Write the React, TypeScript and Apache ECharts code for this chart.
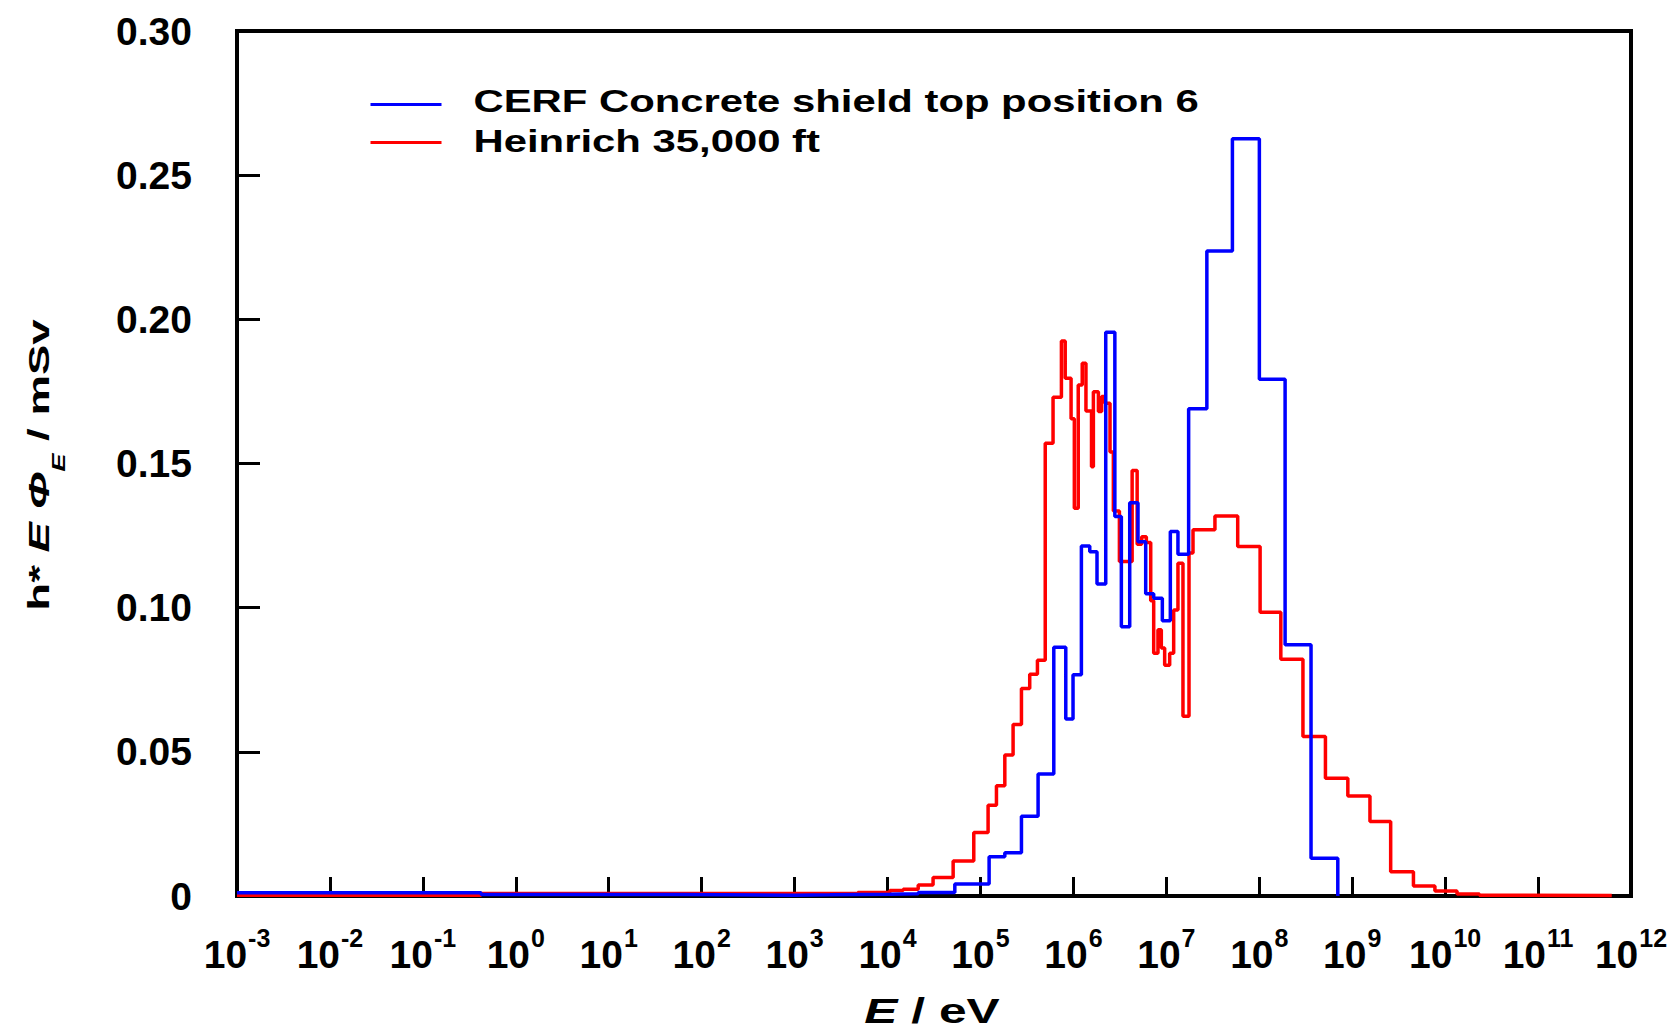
import React, { useEffect, useRef } from "react";
import * as echarts from "echarts";

// bin edges as log10(E / eV), values are h* E Phi_E in mSv
const cerfEdgesLog = [
  -3, -0.374, 1.8, 3.0, 3.38, 4.025, 4.33, 4.724, 5.093, 5.262, 5.441, 5.62,
  5.789, 5.918, 5.996, 6.086, 6.176, 6.254, 6.348, 6.446, 6.516, 6.606, 6.695,
  6.778, 6.864, 6.957, 7.043, 7.125, 7.24, 7.436, 7.711, 8.001, 8.278, 8.557,
  8.845,
];
const cerfValues = [
  0.0011, 0.0005, 0.0003, 0.0004, 0.0006, 0.0008, 0.0012, 0.0042, 0.0136,
  0.015, 0.0277, 0.0423, 0.0863, 0.0614, 0.0767, 0.1214, 0.1194, 0.1082,
  0.1955, 0.1316, 0.0934, 0.1364, 0.1229, 0.1048, 0.1033, 0.0955, 0.1264,
  0.1185, 0.169, 0.2237, 0.2626, 0.1792, 0.0871, 0.0131,
];

const heinrichEdgesLog = [
  -3, -0.374, 3.68, 4.025, 4.168, 4.33, 4.49, 4.706, 4.928, 5.082, 5.172,
  5.262, 5.351, 5.441, 5.53, 5.613, 5.697, 5.781, 5.871, 5.912, 5.975, 6.01,
  6.052, 6.095, 6.135, 6.195, 6.215, 6.269, 6.304, 6.34, 6.394, 6.43, 6.495,
  6.632, 6.686, 6.735, 6.785, 6.832, 6.864, 6.91, 6.946, 6.982, 7.036, 7.079,
  7.125, 7.179, 7.244, 7.287, 7.523, 7.768, 8.009, 8.232, 8.47, 8.712, 8.953,
  9.191, 9.414, 9.659, 9.89, 10.128, 10.369, 10.604, 11.793,
];
const heinrichValues = [
  0.0003, 0.0009, 0.0012, 0.0019, 0.0023, 0.0038, 0.0064, 0.0121, 0.022,
  0.0315, 0.0382, 0.0489, 0.0595, 0.072, 0.0769, 0.0818, 0.157, 0.173, 0.1925,
  0.1796, 0.1655, 0.1345, 0.1772, 0.1848, 0.1682, 0.1489, 0.1749, 0.168,
  0.1732, 0.1709, 0.154, 0.1335, 0.116, 0.1476, 0.122, 0.1246, 0.1226, 0.1024,
  0.0842, 0.0923, 0.086, 0.08, 0.0842, 0.0992, 0.1154, 0.0623, 0.119, 0.127,
  0.1318, 0.1212, 0.0984, 0.0821, 0.0553, 0.0408, 0.0347, 0.0258, 0.0084,
  0.0035, 0.0017, 0.0007, 0.0003, 0.0002,
];

const seriesNames = ["CERF Concrete shield top position 6", "Heinrich 35,000 ft"];
const seriesColors = ["#0000ff", "#ff0000"];

const FONT = "'Liberation Sans', Arial, Helvetica, sans-serif";

// histogram outline: one point per bin start, plus the closing edge
const toSteps = (edges: number[], values: number[]) => {
  const pts: number[][] = values.map((v, i) => [Math.pow(10, edges[i]), v]);
  pts.push([Math.pow(10, edges[edges.length - 1]), 0]);
  return pts;
};

const bold = (size: number, extra: object = {}) => ({
  fontSize: size,
  fontWeight: "bold",
  fontFamily: FONT,
  fill: "#000",
  color: "#000",
  ...extra,
});

const App: React.FC = () => {
  const chartRef = useRef<HTMLDivElement>(null);

  useEffect(() => {
    if (!chartRef.current) return;
    const chart = echarts.init(chartRef.current, null, { renderer: "svg" });

    chart.setOption({
      animation: false,
      backgroundColor: "#ffffff",
      grid: {
        left: 237,
        right: 46,
        top: 31,
        bottom: 135,
        show: true,
        borderColor: "#000",
        borderWidth: 4,
      },
      xAxis: {
        type: "log",
        logBase: 10,
        min: 1e-3,
        max: 1e12,
        interval: 1,
        axisLine: { lineStyle: { color: "#000", width: 4 } },
        axisTick: { show: true, inside: true, length: 19, lineStyle: { color: "#000", width: 3 } },
        minorTick: { show: false },
        splitLine: { show: false },
        axisLabel: {
          interval: 0,
          margin: 29,
          hideOverlap: false,
          formatter: (v: number) => `{b|10}{s|${Math.round(Math.log10(v))}}`,
          rich: {
            b: bold(39, { lineHeight: 58 }),
            s: bold(25, { lineHeight: 25, verticalAlign: "top", padding: [0, 0, 0, 1] }),
          },
        },
      },
      yAxis: {
        type: "value",
        min: 0,
        max: 0.3,
        interval: 0.05,
        axisLine: { show: true, lineStyle: { color: "#000", width: 4 } },
        axisTick: { show: true, inside: true, length: 23, lineStyle: { color: "#000", width: 3 } },
        splitLine: { show: false },
        axisLabel: {
          margin: 45,
          fontSize: 39,
          fontWeight: "bold",
          fontFamily: FONT,
          color: "#000",
          formatter: (v: number) => (v === 0 ? "0" : v.toFixed(2)),
        },
      },
      graphic: [
        // legend
        {
          type: "group",
          left: 368,
          top: 86,
          children: seriesNames.flatMap((name, i) => [
            {
              type: "line",
              shape: { x1: 0, y1: 19 + i * 38, x2: 71, y2: 19 + i * 38 },
              style: { stroke: seriesColors[i], lineWidth: 3 },
            },
            {
              type: "text",
              x: 103,
              y: 16 + i * 40,
              scaleX: 1.35,
              style: {
                text: name,
                fill: "#000",
                font: `bold 31px ${FONT}`,
                verticalAlign: "middle",
              },
            },
          ]),
        },
        // x axis title
        {
          type: "text",
          x: 932,
          y: 1011,
          scaleX: 1.42,
          style: {
            text: "{i|E}{n| / eV}",
            align: "center",
            verticalAlign: "middle",
            rich: {
              i: bold(35, { fontStyle: "italic", lineHeight: 34 }),
              n: bold(35, { lineHeight: 34 }),
            },
          },
        },
        // y axis title
        {
          type: "text",
          x: 39,
          y: 465,
          rotation: Math.PI / 2,
          scaleX: 1.52,
          style: {
            text: "{n|h* }{i|E Φ}{sub|E}{n| / mSv}",
            align: "center",
            verticalAlign: "middle",
            rich: {
              n: bold(30, { lineHeight: 58 }),
              i: bold(30, { fontStyle: "italic", lineHeight: 58 }),
              sub: bold(18, { fontStyle: "italic", lineHeight: 18, verticalAlign: "bottom" }),
            },
          },
        },
      ],
      series: [
        {
          name: seriesNames[1],
          type: "line",
          step: "end",
          symbol: "none",
          clip: false,
          lineStyle: { color: seriesColors[1], width: 3.5 },
          data: toSteps(heinrichEdgesLog, heinrichValues),
          z: 2,
        },
        {
          name: seriesNames[0],
          type: "line",
          step: "end",
          symbol: "none",
          clip: false,
          lineStyle: { color: seriesColors[0], width: 3.5 },
          data: toSteps(cerfEdgesLog, cerfValues),
          z: 3,
        },
      ],
    });

    const handleResize = () => chart.resize();
    window.addEventListener("resize", handleResize);
    return () => {
      window.removeEventListener("resize", handleResize);
      chart.dispose();
    };
  }, []);

  return (
    <div
      ref={chartRef}
      style={{ position: "fixed", left: 0, top: 0, width: 1677, height: 1031, background: "#fff" }}
    />
  );
};

export default App;
